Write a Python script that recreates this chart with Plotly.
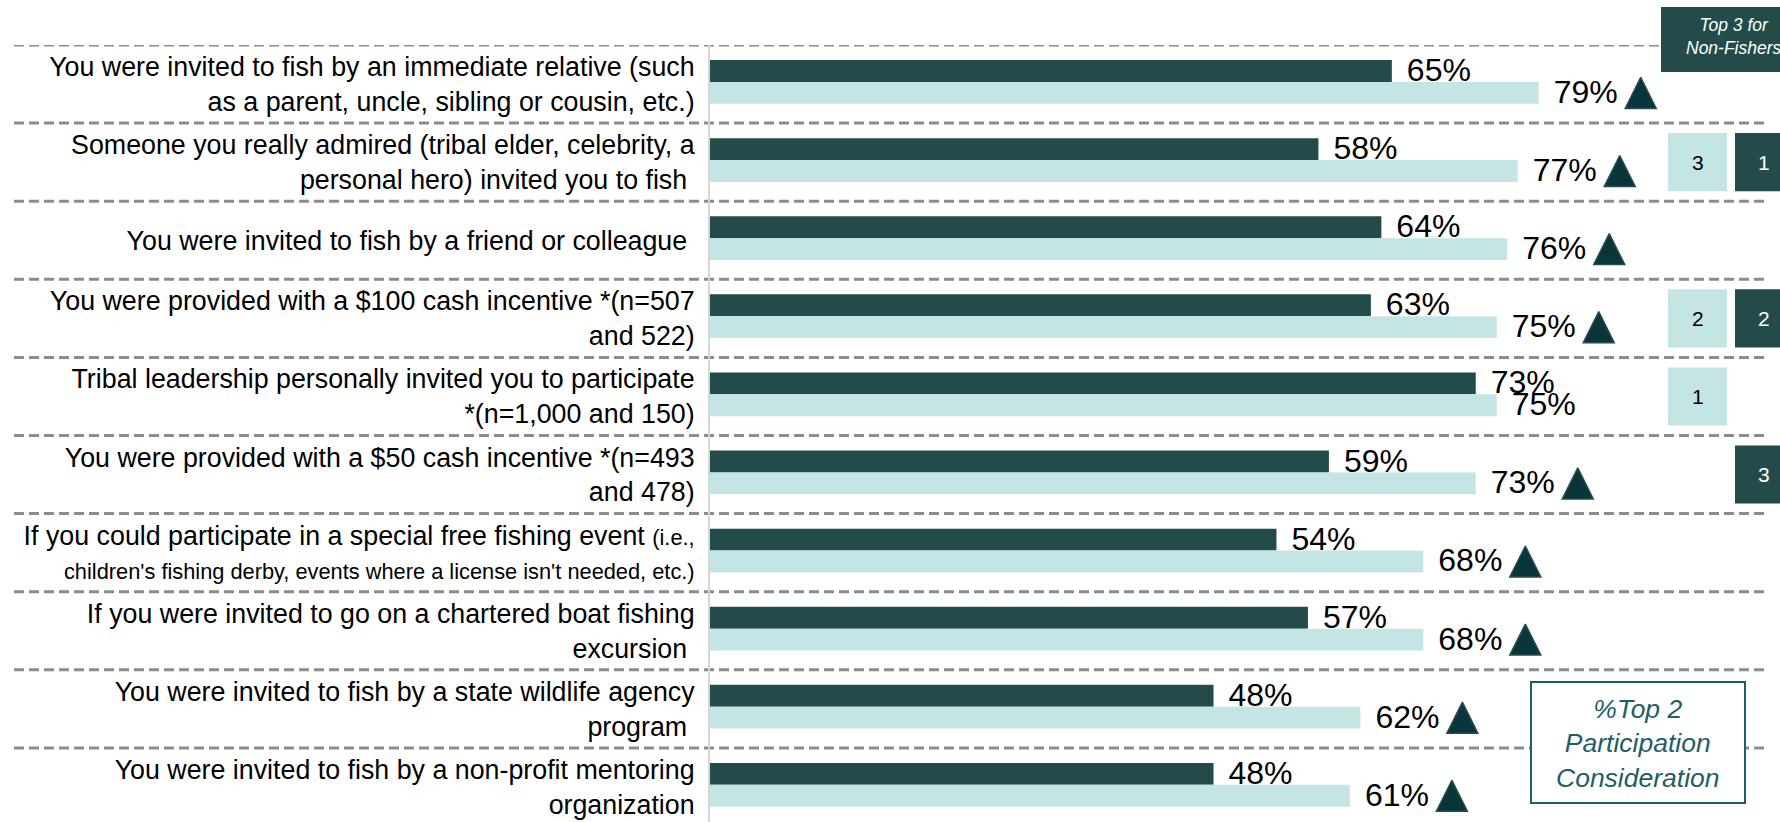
import plotly.graph_objects as go

# ---------------- data ----------------
categories = [
    "You were invited to fish by an immediate relative (such<br>as a parent, uncle, sibling or cousin, etc.)",
    "Someone you really admired (tribal elder, celebrity, a<br>personal hero) invited you to fish\u00a0",
    "You were invited to fish by a friend or colleague\u00a0",
    "You were provided with a $100 cash incentive *(n=507<br>and 522)",
    "Tribal leadership personally invited you to participate<br>*(n=1,000 and 150)",
    "You were provided with a $50 cash incentive *(n=493<br>and 478)",
    "If you could participate in a special free fishing event <span style='font-size:21.8px'>(i.e.,</span><br>"
    "<span style='font-size:21.8px'>children's fishing derby, events where a license isn't needed, etc.)</span>",
    "If you were invited to go on a chartered boat fishing<br>excursion\u00a0",
    "You were invited to fish by a state wildlife agency<br>program\u00a0",
    "You were invited to fish by a non-profit mentoring<br>organization",
]
fishers = [65, 58, 64, 63, 73, 59, 54, 57, 48, 48]
non_fishers = [79, 77, 76, 75, 75, 73, 68, 68, 62, 61]
significant = [True, True, True, True, False, True, True, True, True, True]
rank_non_fishers = ["", "3", "", "2", "1", "", "", "", "", ""]
rank_fishers = ["", "1", "", "2", "", "3", "", "", "", ""]
header_text = "Top 3 for<br>Non-Fishers"
box_text = "%Top 2<br>Participation<br>Consideration"

# ---------------- style / layout constants ----------------
W, H = 1780, 822
L, T = 710, 45
PX_PER_UNIT = 10.49
ROW_PX = 78.1
XMAX = (W - L) / PX_PER_UNIT
YBOT = -0.5 + (H - T) / ROW_PX
BAR_W = 0.28
DARK_OFF = -0.307
LIGHT_OFF = -0.027
DARK = "#234B4A"
LIGHT = "#C5E5E4"
TRI = "#0A353A"
TEAL = "#1E5E64"
FONT = "Liberation Sans, Arial, sans-serif"
TEXT_DY = 2.0 / ROW_PX  # small downward nudge of value labels

rows = list(range(len(categories)))
dark_c = DARK_OFF + BAR_W / 2
light_c = LIGHT_OFF + BAR_W / 2


def px_x(p):
    return (p - L) / (W - L)


def px_y(p):
    return 1 - (p - T) / (H - T)


fig = go.Figure()

fig.add_trace(go.Bar(
    y=rows, x=fishers, orientation="h", name="Fishers",
    marker=dict(color=DARK, line=dict(width=0)),
    width=BAR_W, offset=DARK_OFF, hoverinfo="skip",
))
fig.add_trace(go.Bar(
    y=rows, x=non_fishers, orientation="h", name="Non-Fishers",
    marker=dict(color=LIGHT, line=dict(width=0)),
    width=BAR_W, offset=LIGHT_OFF, hoverinfo="skip",
))

gap_units = 15 / PX_PER_UNIT
fig.add_trace(go.Scatter(
    y=[r + dark_c + TEXT_DY for r in rows], x=[v + gap_units for v in fishers],
    mode="text", text=[f"{v}%" for v in fishers], textposition="middle right",
    textfont=dict(size=32, color="black", family=FONT), cliponaxis=False,
    hoverinfo="skip",
))
fig.add_trace(go.Scatter(
    y=[r + light_c + TEXT_DY for r in rows], x=[v + gap_units for v in non_fishers],
    mode="text", text=[f"{v}%" for v in non_fishers], textposition="middle right",
    textfont=dict(size=32, color="black", family=FONT), cliponaxis=False,
    hoverinfo="skip",
))

TRI_SIZE = 31
tri_rows = [r for r, s in zip(rows, significant) if s]
tri_vals = [v for v, s in zip(non_fishers, significant) if s]
fig.add_trace(go.Scatter(
    y=[r + light_c - (TRI_SIZE / 2) / ROW_PX for r in tri_rows],
    x=[v + 102 / PX_PER_UNIT for v in tri_vals],
    mode="markers",
    marker=dict(symbol="arrow-up", size=TRI_SIZE, color=TRI,
                line=dict(color="#2A4C50", width=1.5)),
    cliponaxis=False, hoverinfo="skip",
))

shapes = []
# dashed separators
for i in range(len(categories) + 1):
    shapes.append(dict(
        type="line", xref="paper", yref="y",
        x0=px_x(14), x1=px_x(1768), y0=i - 0.5, y1=i - 0.5,
        line=dict(color="#8C8C8C", width=3, dash="10px,5px"), layer="below",
    ))

annotations = []
# rank boxes
for r, (a, b) in enumerate(zip(rank_non_fishers, rank_fishers)):
    if a:
        shapes.append(dict(type="rect", xref="paper", yref="y",
                           x0=px_x(1668), x1=px_x(1727), y0=r - 0.372, y1=r + 0.372,
                           fillcolor=LIGHT, line=dict(width=0), layer="above"))
        annotations.append(dict(xref="paper", yref="y", x=px_x(1697.5), y=r, text=a,
                                xanchor="center", yanchor="middle", showarrow=False,
                                font=dict(size=21, color="black", family=FONT)))
    if b:
        shapes.append(dict(type="rect", xref="paper", yref="y",
                           x0=px_x(1735), x1=px_x(1793), y0=r - 0.372, y1=r + 0.372,
                           fillcolor=DARK, line=dict(width=0), layer="above"))
        annotations.append(dict(xref="paper", yref="y", x=px_x(1764), y=r, text=b,
                                xanchor="center", yanchor="middle", showarrow=False,
                                font=dict(size=21, color="white", family=FONT)))

# header box
shapes.append(dict(type="rect", xref="paper", yref="paper",
                   x0=px_x(1661), x1=px_x(1806), y0=px_y(72), y1=px_y(7),
                   fillcolor=DARK, line=dict(width=0), layer="above"))
annotations.append(dict(xref="paper", yref="paper", x=px_x(1733.5), y=px_y(36),
                        xanchor="center", yanchor="middle",
                        text="<i>" + header_text + "</i>", showarrow=False,
                        font=dict(size=17.5, color="white", family=FONT)))

# legend-like box bottom right
shapes.append(dict(type="rect", xref="paper", yref="paper",
                   x0=px_x(1531), x1=px_x(1745), y0=px_y(803), y1=px_y(682),
                   fillcolor="white", line=dict(color=TEAL, width=2), layer="above"))
annotations.append(dict(xref="paper", yref="paper", x=px_x(1638), y=px_y(743),
                        xanchor="center", yanchor="middle",
                        text="<i>" + box_text + "</i>", showarrow=False,
                        font=dict(size=26.5, color=TEAL, family=FONT)))

fig.update_layout(
    width=W, height=H, autosize=False,
    margin=dict(l=L, r=0, t=T, b=0, pad=0),
    paper_bgcolor="white", plot_bgcolor="white",
    barmode="overlay", showlegend=False,
    shapes=shapes, annotations=annotations,
    xaxis=dict(range=[0, XMAX], visible=False, fixedrange=True),
    yaxis=dict(range=[YBOT, -0.5], tickmode="array", tickvals=rows, ticktext=categories,
               showgrid=False, zeroline=False, showline=True, linecolor="#D6D6D6",
               linewidth=2, ticks="", ticklabelstandoff=8,
               tickfont=dict(size=26.8, color="black", family=FONT), fixedrange=True),
)

fig.write_html("out.html", config={"displayModeBar": False})
